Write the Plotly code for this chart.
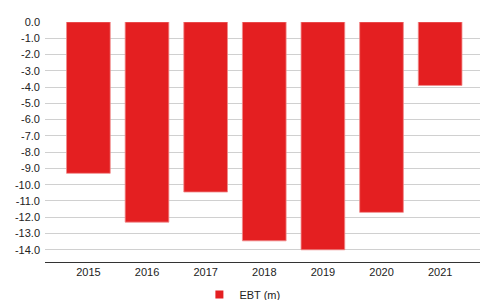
import plotly.graph_objects as go

years = ["2015", "2016", "2017", "2018", "2019", "2020", "2021"]
ebt = [-9.3, -12.3, -10.45, -13.45, -14.0, -11.7, -3.9]
y_ticks = [0, -1, -2, -3, -4, -5, -6, -7, -8, -9, -10, -11, -12, -13, -14]
y_labels = ["0.0", "-1.0", "-2.0", "-3.0", "-4.0", "-5.0", "-6.0", "-7.0",
            "-8.0", "-9.0", "-10.0", "-11.0", "-12.0", "-13.0", "-14.0"]
series_name = "EBT (m)"
bar_color = "#e41f21"

fig = go.Figure()
fig.add_trace(go.Bar(
    x=years, y=ebt, name=series_name,
    marker=dict(color=bar_color, line=dict(color="#f08a8a", width=0.8)),
    showlegend=False,
))
# legend-only entry with a small square swatch
fig.add_trace(go.Scatter(
    x=[None], y=[None], mode="markers", name=series_name,
    marker=dict(symbol="square", size=8, color=bar_color),
    showlegend=True,
))

fig.update_layout(
    width=480, height=300,
    margin=dict(l=45, r=0, t=22, b=38),
    paper_bgcolor="white", plot_bgcolor="white",
    font=dict(family="Liberation Sans, Arial, sans-serif", size=11, color="#222"),
    bargap=0.255,
    showlegend=True,
    legend=dict(orientation="h", x=0.505, xanchor="center", xref="container",
                y=0.018, yanchor="middle", yref="container",
                font=dict(size=11, color="#222"), itemwidth=30,
                tracegroupgap=0, bgcolor="rgba(0,0,0,0)"),
    xaxis=dict(range=[-0.74, 6.68], showgrid=False, showline=True, linecolor="#333",
               linewidth=1, ticks="inside", tickcolor="white", ticklen=2, tickwidth=1,
               fixedrange=True, automargin=False),
    yaxis=dict(range=[-14.75, 0], tickvals=y_ticks, ticktext=y_labels,
               showgrid=True, gridcolor="#d0d0d0", gridwidth=1, zeroline=False,
               showline=False, ticks="", ticklabelstandoff=4, automargin=False,
               fixedrange=True),
)

fig.write_html("out.html", config={"displayModeBar": False},
               post_script="document.body.style.margin='0';")
